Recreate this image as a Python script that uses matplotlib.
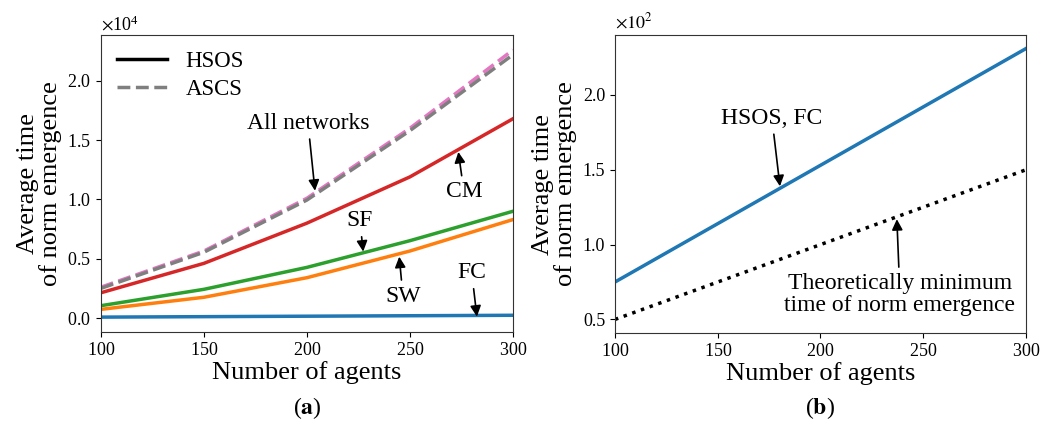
import matplotlib
matplotlib.use("Agg")
import matplotlib.pyplot as plt

plt.rcParams['font.family'] = ['Liberation Serif', 'DejaVu Serif']
plt.rcParams['mathtext.fontset'] = 'stix'
plt.rcParams['axes.formatter.use_mathtext'] = True

# data
agents = [100, 150, 200, 250, 300]
hsos_fc = [75, 114, 153, 192, 231]
hsos_sw = [730, 1750, 3400, 5650, 8300]
hsos_sf = [1040, 2420, 4270, 6520, 9000]
hsos_cm = [2130, 4610, 8000, 11900, 16800]
ascs_pink = [2600, 5650, 10100, 16000, 22600]
ascs_gray = [2500, 5550, 9950, 15800, 22200]
theory_min = [50, 75, 100, 125, 150]


def main():
    fig = plt.figure(figsize=(10.43, 4.25), dpi=100)
    ax1 = fig.add_axes([0.0968, 0.2188, 0.395, 0.6988])
    ax2 = fig.add_axes([0.5896, 0.2165, 0.394, 0.701])

    lw = 2.5
    # panel (a)
    ax1.plot(agents, ascs_pink, '--', color='tab:pink', lw=lw)
    ax1.plot(agents, ascs_gray, '--', color='tab:gray', lw=lw)
    ax1.plot(agents, hsos_cm, color='tab:red', lw=lw)
    ax1.plot(agents, hsos_sf, color='tab:green', lw=lw)
    ax1.plot(agents, hsos_sw, color='tab:orange', lw=lw)
    ax1.plot(agents, hsos_fc, color='tab:blue', lw=lw)
    h1, = ax1.plot([], [], '-', color='k', lw=lw, label='HSOS')
    h2, = ax1.plot([], [], '--', color='tab:gray', lw=lw, label='ASCS')
    ax1.legend(handles=[h1, h2], loc='upper left', frameon=False,
               fontsize=16.5, handlelength=2.2, borderaxespad=0.3,
               labelspacing=0.3)
    ax1.set_xlim(100, 300)
    ax1.set_ylim(-1180, 23860)
    ax1.ticklabel_format(axis='y', style='sci', scilimits=(0, 0))
    ax1.yaxis.get_offset_text().set_fontsize(13)

    arrow = dict(arrowstyle='-|>', color='k', lw=1.2, mutation_scale=16,
                 shrinkA=2, shrinkB=0)
    notes_a = [
        ('All networks', (200.5, 16440), (203.9, 10730)),
        ('CM', (276.2, 10650), (273.5, 14000)),
        ('SF', (225.7, 8200), (227.3, 5600)),
        ('SW', (246.6, 1850), (244.8, 5170)),
        ('FC', (280.0, 3820), (282.5, 120)),
    ]
    for txt, xyt, xy in notes_a:
        ax1.annotate(txt, xy=xy, xytext=xyt, fontsize=17, ha='center',
                     va='center', arrowprops=arrow)

    # panel (b)
    ax2.plot(agents, hsos_fc, color='tab:blue', lw=lw)
    ax2.plot(agents, theory_min, ':', color='k', lw=lw)
    ax2.set_xlim(100, 300)
    ax2.set_yticks([50, 100, 150, 200])
    ax2.set_yticklabels(['0.5', '1.0', '1.5', '2.0'])
    ax2.text(0, 1.01, r'$\times10^2$', transform=ax2.transAxes,
             fontsize=13, va='bottom', ha='left')
    ax2.annotate('HSOS, FC', xy=(180.3, 139), xytext=(176.4, 184.5),
                 fontsize=17, ha='center', va='center', arrowprops=arrow)
    ax2.annotate('Theoretically minimum\ntime of norm emergence',
                 xy=(237.2, 117), xytext=(238.7, 66.7), fontsize=17,
                 ha='center', va='center', linespacing=1.1,
                 arrowprops=arrow)

    for ax in (ax1, ax2):
        ax.set_xticks([100, 150, 200, 250, 300])
        ax.tick_params(labelsize=13)
        ax.set_xlabel('Number of agents', fontsize=19, labelpad=2)
        ax.set_ylabel('Average time\nof norm emergence', fontsize=19,
                      linespacing=1.0, labelpad=4)
        for s in ax.spines.values():
            s.set_color('#333333')

    fig.text(0.2943, 0.04, r'($\mathbf{a}$)', ha='center', va='center',
             fontsize=17)
    fig.text(0.786, 0.04, r'($\mathbf{b}$)', ha='center', va='center',
             fontsize=17)

    fig.savefig('out.png', dpi=100)
    plt.close(fig)


if __name__ == "__main__":
    main()
